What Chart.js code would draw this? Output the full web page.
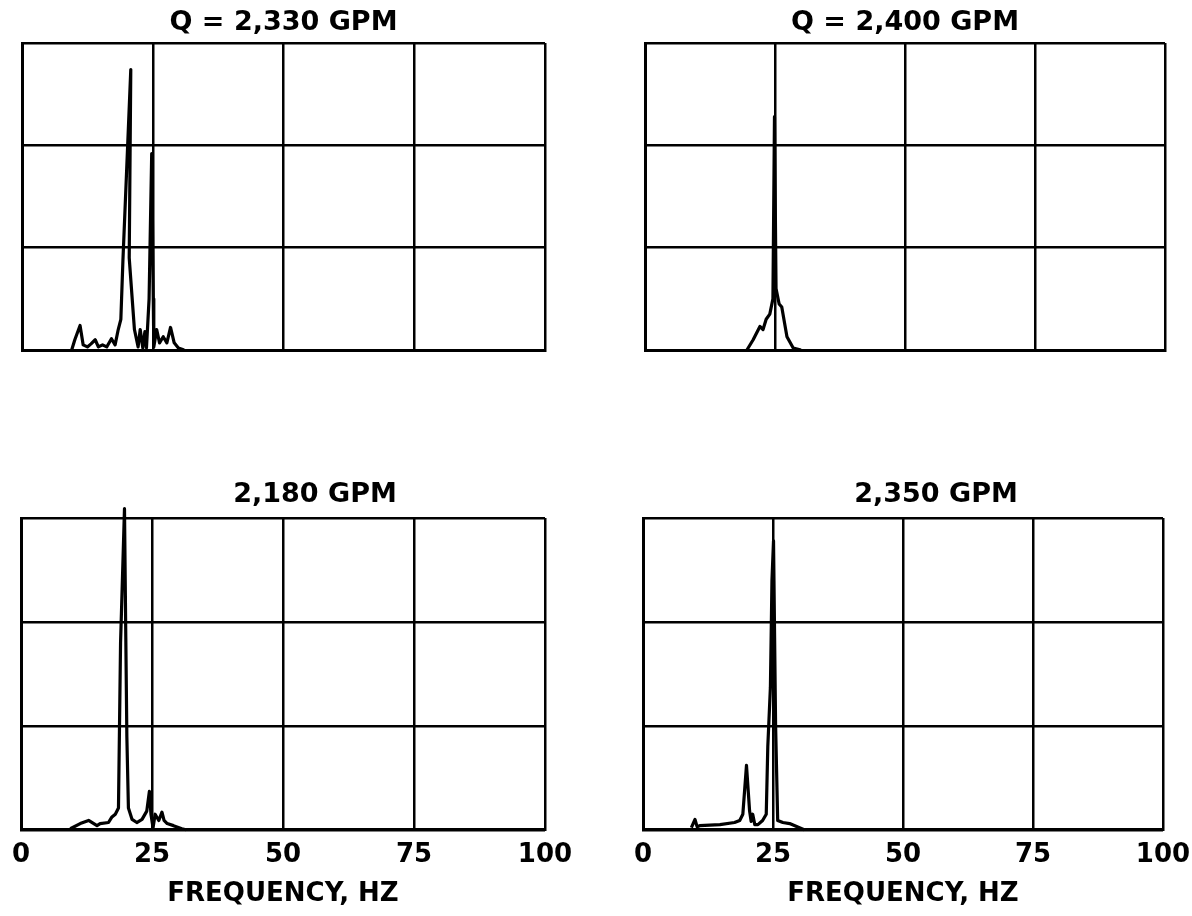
<!DOCTYPE html>
<html>
<head>
<meta charset="utf-8">
<script src="https://cdn.jsdelivr.net/npm/chart.js@4.4.1/dist/chart.umd.min.js"></script>
<style>
  html, body { margin: 0; padding: 0; background: #fff; }
  body { width: 1192px; height: 916px; position: relative; overflow: hidden; }
  canvas { position: absolute; }
</style>
</head>
<body>
<canvas id="c1" width="600" height="380" style="left:0;top:0"></canvas>
<canvas id="c2" width="592" height="380" style="left:600px;top:0"></canvas>
<canvas id="c3" width="640" height="446" style="left:0;top:470px"></canvas>
<canvas id="c4" width="630" height="446" style="left:600px;top:470px"></canvas>
<script>
// ---- data (frequency in Hz, relative amplitude in grid divisions) ----
const titles = ["Q = 2,330 GPM", "Q = 2,400 GPM", "2,180 GPM", "2,350 GPM"];
const xTicks = [0, 25, 50, 75, 100];
const xAxisTitle = "FREQUENCY, HZ";

const hz2330  = [9.5,10.1,11.1,11.7,12.5,13.2,14.0,14.6,15.4,16.2,17.1,17.8,18.4,18.9,19.3,20.8,20.5,21.5,22.2,22.6,23.1,23.5,23.8,24.3,24.8,25.1,25.2,25.75,26.3,27.0,27.7,28.4,29.1,29.9,31.0];
const amp2330 = [0.0,0.10,0.24,0.05,0.03,0.06,0.10,0.03,0.05,0.03,0.11,0.05,0.20,0.30,0.88,2.74,0.90,0.20,0.03,0.20,0.02,0.18,0.02,0.50,1.92,0.50,0.03,0.20,0.07,0.13,0.07,0.22,0.07,0.02,0.0];

const hz2400  = [19.6,20.8,22.1,22.7,23.3,24.0,24.6,24.9,25.2,25.8,26.3,27.3,28.5,30.0];
const amp2400 = [0.0,0.10,0.23,0.20,0.30,0.35,0.50,2.28,0.60,0.45,0.42,0.13,0.02,0.0];

const hz2180  = [9.4,11.3,12.9,14.5,15.1,16.7,17.3,18.0,18.6,19.0,19.75,20.0,20.2,20.5,21.2,22.1,23.1,24.0,24.5,24.8,25.2,25.6,26.3,26.9,27.3,27.9,29.1,30.7,31.5];
const amp2180 = [0.01,0.06,0.09,0.04,0.06,0.07,0.12,0.15,0.21,1.80,3.09,1.85,0.90,0.21,0.10,0.07,0.10,0.18,0.37,0.15,0.02,0.15,0.09,0.17,0.09,0.06,0.04,0.01,0.0];

const hz2350  = [9.3,10.0,10.4,10.9,14.8,17.6,18.6,19.2,19.9,20.5,20.8,21.1,21.5,22.1,23.0,23.7,24.0,24.5,24.8,25.1,25.5,25.9,26.9,28.2,30.1,31.0];
const amp2350 = [0.02,0.10,0.03,0.04,0.05,0.07,0.09,0.15,0.62,0.18,0.08,0.15,0.05,0.05,0.09,0.15,0.80,1.37,2.40,2.78,1.00,0.09,0.07,0.06,0.02,0.0];

const FONT = { family: "'DejaVu Sans', sans-serif", size: 26, weight: 'bold' };
const AFONT = { family: "'DejaVu Sans', sans-serif", size: 26, weight: 'bold', lineHeight: 1.1 };
const TFONT = { family: "'DejaVu Sans', sans-serif", size: 27, weight: 'bold' };

function pts(xs, ys) { return xs.map((x, i) => ({ x: x, y: ys[i] })); }

function makeChart(id, title, xs, ys, opt) {
  const scales = {
    x: {
      type: 'linear', min: 0, max: 100,
      afterBuildTicks: s => { s.ticks = xTicks.map(v => ({ value: v })); },
      ticks: { display: opt.bottom, color: '#000', font: FONT, padding: 9.5, maxRotation: 0, autoSkip: false },
      grid: { color: '#000', lineWidth: 2.5, drawTicks: false },
      border: { display: true, color: '#000', width: 3 },
      title: { display: opt.bottom, text: xAxisTitle, color: '#000', font: AFONT, padding: { top: 0, bottom: 4 } }
    },
    y: {
      min: 0, max: 3,
      ticks: { display: false, stepSize: 1 },
      grid: { color: '#000', lineWidth: 2.5, drawTicks: false },
      border: { display: true, color: '#000', width: 3 }
    }
  };
  if (opt.shift) {
    scales.y2 = {
      position: 'right', display: true, min: 0, max: 3,
      ticks: { display: false }, grid: { display: false }, border: { display: false },
      afterFit: s => { s.width = opt.shift; }
    };
  }
  return new Chart(document.getElementById(id), {
    type: 'line',
    data: {
      datasets: [{
        data: pts(xs, ys),
        borderColor: '#000', borderWidth: 3.2, pointRadius: 0,
        borderJoinStyle: 'round',
        tension: 0, fill: false, clip: false
      }]
    },
    options: {
      responsive: false, animation: false, events: [],
      layout: { padding: opt.pad },
      plugins: {
        legend: { display: false }, tooltip: { enabled: false },
        title: { display: true, text: title, color: '#000', font: TFONT, padding: opt.tpad }
      },
      scales: scales
    }
  });
}

makeChart('c1', titles[0], hz2330, amp2330,
  { bottom: false, pad: { left: 22, right: 55, top: 0, bottom: 30 }, tpad: { top: 6.5, bottom: 4.1 } });
makeChart('c2', titles[1], hz2400, amp2400,
  { bottom: false, pad: { left: 45, right: 27, top: 0, bottom: 30 }, tpad: { top: 6.5, bottom: 4.1 } });
makeChart('c3', titles[2], hz2180, amp2180,
  { bottom: true, shift: 64, pad: { left: 21, right: 31, top: 0, bottom: 3.4 }, tpad: { top: 8.8, bottom: 6.8 } });
makeChart('c4', titles[3], hz2350, amp2350,
  { bottom: true, shift: 66, pad: { left: 43, right: 1, top: 0, bottom: 3.4 }, tpad: { top: 8.8, bottom: 6.8 } });
</script>
</body>
</html>
